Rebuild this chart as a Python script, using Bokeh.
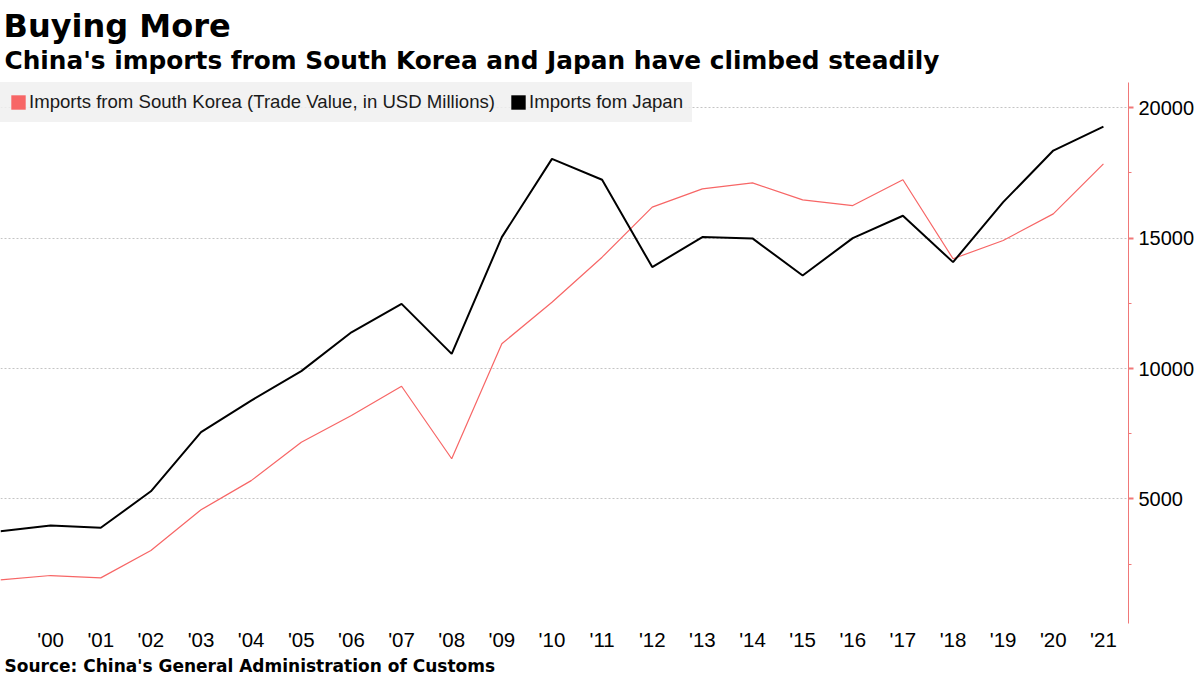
from bokeh.plotting import figure
from bokeh.models import (Title, Legend, LegendItem, FixedTicker, ColumnDataSource, Range1d)
from bokeh.embed import file_html
from bokeh.resources import INLINE

years = list(range(1999, 2022))
korea = [1890, 2060, 1970, 3020, 4580, 5700, 7170, 8200, 9320, 6540, 10950, 12540,
         14270, 16190, 16890, 17120, 16470, 16250, 17240, 14210, 14910, 15930, 17850]
japan = [3760, 3980, 3890, 5290, 7560, 8770, 9900, 11390, 12480, 10560, 15040, 18040,
         17240, 13890, 15040, 14990, 13570, 15000, 15860, 14080, 16380, 18360, 19280]
x_ticks = list(range(2000, 2022))
x_labels = ["'%02d" % (y % 100) for y in x_ticks]
y_ticks = [5000, 10000, 15000, 20000]
y_minor = [2500, 7500, 12500, 17500]

title = "Buying More"
subtitle = "China's imports from South Korea and Japan have climbed steadily"
source = "Source: China's General Administration of Customs"
label_korea = "Imports from South Korea (Trade Value, in USD Millions)"
label_japan = "Imports fom Japan"

RED = "#f76666"
AXIS_RED = "#f07878"

p = figure(width=1200, height=675,
           x_range=Range1d(1999, 2021.5), y_range=Range1d(220, 20970),
           y_axis_location="right", output_backend="svg", toolbar_location=None,
           min_border_left=0, min_border_top=82, min_border_bottom=0, min_border_right=72)
p.outline_line_color = None
p.background_fill_color = "white"

# titles: first added sits closest to the plot
p.add_layout(Title(text=subtitle, text_font="DejaVu Sans", text_font_style="bold",
                   text_font_size="24.8px", text_color="black", align="left",
                   offset=4, standoff=16), "above")
p.add_layout(Title(text=title, text_font="DejaVu Sans", text_font_style="bold",
                   text_font_size="32px", text_color="black", align="left",
                   offset=3, standoff=-18), "above")

src = ColumnDataSource(dict(year=years, korea=korea, japan=japan))
r_k = p.line("year", "korea", source=src, line_color=RED, line_width=1.2)
r_j = p.line("year", "japan", source=src, line_color="black", line_width=2)

# axes
xa = p.xaxis[0]
xa.ticker = FixedTicker(ticks=x_ticks)
xa.major_label_overrides = {t: l for t, l in zip(x_ticks, x_labels)}
xa.axis_line_color = None
xa.major_tick_line_color = None
xa.minor_tick_line_color = None
xa.major_tick_in = 0
xa.major_tick_out = 0
xa.major_label_standoff = 4
xa.major_label_text_font = "Liberation Sans"
xa.major_label_text_font_size = "20.5px"
xa.major_label_text_color = "black"

p.add_layout(Title(text=source, text_font="DejaVu Sans", text_font_style="bold",
                   text_font_size="17px", text_color="black", align="left",
                   offset=4, standoff=0), "below")

ya = p.yaxis[0]
ya.ticker = FixedTicker(ticks=y_ticks, minor_ticks=y_minor)
ya.major_label_overrides = {t: str(t) for t in y_ticks}
ya.axis_line_color = AXIS_RED
ya.major_tick_line_color = AXIS_RED
ya.major_tick_line_width = 2
ya.major_tick_in = 0
ya.major_tick_out = 5
ya.minor_tick_line_color = AXIS_RED
ya.minor_tick_in = 0
ya.minor_tick_out = 3
ya.major_label_standoff = 5
ya.major_label_text_font = "Liberation Sans"
ya.major_label_text_font_size = "20px"
ya.major_label_text_color = "black"

p.xgrid.visible = False
p.ygrid.ticker = FixedTicker(ticks=y_ticks)
p.ygrid.grid_line_color = "#c4c4c4"
p.ygrid.grid_line_dash = "2 2"
p.ygrid.grid_line_width = 1

# legend swatches: hidden quads over the series, drawn as squares in the legend
sq_k = p.quad(left="year", right="year", top="korea", bottom="korea", source=src,
              fill_color=RED, line_color=None, visible=False)
sq_j = p.quad(left="year", right="year", top="japan", bottom="japan", source=src,
              fill_color="black", line_color=None, visible=False)
legend = Legend(items=[LegendItem(label=label_korea, renderers=[sq_k]),
                       LegendItem(label=label_japan, renderers=[sq_j])],
                location="top_left", orientation="horizontal",
                margin=0, padding=9, spacing=14,
                glyph_width=18, glyph_height=18, label_standoff=2, label_height=20,
                label_text_font="Liberation Sans", label_text_font_size="18.6px",
                label_text_color="#1a1a1a",
                background_fill_color="#f0f0f0", background_fill_alpha=0.85,
                border_line_color="#f0f0f0", border_line_alpha=0.0)
p.add_layout(legend)

open("out.html", "w").write(file_html(p, INLINE))
